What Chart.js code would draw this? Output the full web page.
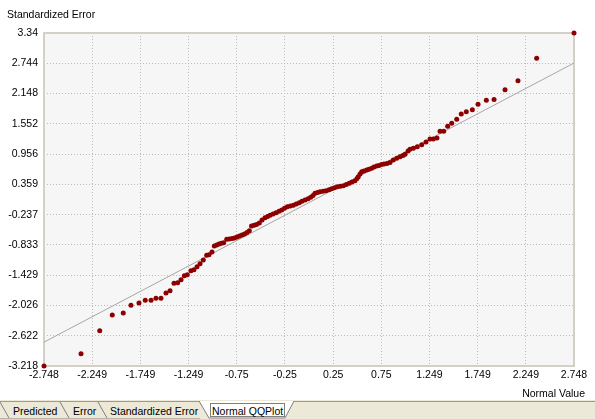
<!DOCTYPE html>
<html>
<head>
<meta charset="utf-8">
<script src="https://cdn.jsdelivr.net/npm/chart.js@4.4.0/dist/chart.umd.min.js"></script>
<style>
    html, body { margin: 0; padding: 0; background: #fff; }
    #wrap { position: relative; width: 595px; height: 419px; overflow: hidden;
            font-family: "Liberation Sans", Arial, sans-serif; font-size: 10.5px; color: #000; }
    #qq-chart { position: absolute; left: 0; top: 0; }
    .lbl { position: absolute; white-space: nowrap; line-height: 13px; }
    #y-title { left: 7px; top: 8px; }
    #x-title { right: 10px; top: 387px; }
    #tabs { position: absolute; left: 0; top: 400px; }
    #tabs text { font-family: "Liberation Sans", Arial, sans-serif; font-size: 10.5px; fill: #000; }
</style>
</head>
<body>
<div id="wrap">
    <canvas id="qq-chart" width="595" height="402"></canvas>
    <div class="lbl" id="y-title">Standardized Error</div>
    <div class="lbl" id="x-title">Normal Value</div>
    <svg id="tabs" width="595" height="19">
        <rect x="0" y="0" width="595" height="19" fill="#ECE9D8"/>
        <line x1="0" y1="1.5" x2="595" y2="1.5" stroke="#9A9A96"/>
        <line x1="0" y1="18.5" x2="200" y2="18.5" stroke="#B8B4A8"/>
        <polyline points="0,2 9,18" fill="none" stroke="#808080"/>
        <polyline points="60,2 69,18" fill="none" stroke="#808080"/>
        <polyline points="98,2 107,18" fill="none" stroke="#808080"/>
        <polygon points="199,1 209,18 285,18 294,1" fill="#FFFFFF"/>
        <polyline points="199,1 209,18 285,18 294,1" fill="none" stroke="#808080"/>
        <text x="212" y="15">Normal QQPlot</text>
        <text x="13" y="15">Predicted</text>
        <text x="73" y="15">Error</text>
        <text x="110" y="15">Standardized Error</text>
        <rect x="210.5" y="3.5" width="74" height="13" fill="none" stroke="#000" stroke-dasharray="1,1"/>
    </svg>
</div>
<script>
// --- Data ---
const xTickLabels = ['-2.748', '-2.249', '-1.749', '-1.249', '-0.75', '-0.25', '0.25', '0.75', '1.249', '1.749', '2.249', '2.748'];
const yTickLabels = ['-3.218', '-2.622', '-2.026', '-1.429', '-0.833', '-0.237', '0.359', '0.956', '1.552', '2.148', '2.744', '3.34'];

// normal quantiles (x) and sorted standardized errors (y)
const qqX = [-2.748, -2.364, -2.170, -2.040, -1.926, -1.846, -1.763, -1.698, -1.638, -1.587,
    -1.535, -1.483, -1.441, -1.400, -1.362, -1.327, -1.293, -1.262, -1.224, -1.193,
    -1.161, -1.130, -1.096, -1.061, -1.037, -1.006, -0.982, -0.957, -0.933, -0.909,
    -0.885, -0.853, -0.826, -0.798, -0.773, -0.747, -0.721, -0.695, -0.669, -0.643,
    -0.619, -0.596, -0.570, -0.544, -0.515, -0.487, -0.456, -0.430, -0.404, -0.373,
    -0.342, -0.311, -0.283, -0.254, -0.225, -0.194, -0.163, -0.132, -0.101, -0.073,
    -0.041, -0.010, 0.018, 0.042, 0.062, 0.088, 0.114, 0.145, 0.176, 0.208,
    0.235, 0.265, 0.294, 0.325, 0.356, 0.387, 0.418, 0.446, 0.477, 0.498,
    0.511, 0.529, 0.547, 0.570, 0.598, 0.622, 0.650, 0.674, 0.702, 0.726,
    0.752, 0.778, 0.809, 0.840, 0.874, 0.910, 0.944, 0.975, 0.996, 1.027,
    1.047, 1.082, 1.123, 1.169, 1.213, 1.255, 1.289, 1.327, 1.359, 1.397,
    1.438, 1.480, 1.532, 1.579, 1.631, 1.694, 1.753, 1.839, 1.919, 2.033,
    2.167, 2.361, 2.748];
const qqY = [-3.218, -2.976, -2.523, -2.213, -2.174, -2.022, -1.977, -1.924, -1.924, -1.885,
    -1.885, -1.780, -1.735, -1.589, -1.577, -1.518, -1.439, -1.420, -1.341, -1.321,
    -1.262, -1.203, -1.130, -1.038, -1.026, -0.973, -0.855, -0.835, -0.815, -0.801,
    -0.790, -0.723, -0.717, -0.707, -0.697, -0.677, -0.658, -0.638, -0.618, -0.589,
    -0.553, -0.461, -0.447, -0.431, -0.402, -0.343, -0.297, -0.274, -0.250, -0.224,
    -0.199, -0.171, -0.146, -0.112, -0.081, -0.067, -0.053, -0.027, -0.002, 0.026,
    0.051, 0.077, 0.104, 0.140, 0.183, 0.199, 0.215, 0.225, 0.234, 0.254,
    0.274, 0.294, 0.313, 0.323, 0.333, 0.357, 0.380, 0.406, 0.431, 0.475,
    0.510, 0.563, 0.609, 0.622, 0.642, 0.658, 0.676, 0.701, 0.721, 0.731,
    0.750, 0.760, 0.770, 0.790, 0.839, 0.872, 0.904, 0.928, 0.951, 1.016,
    1.050, 1.069, 1.101, 1.140, 1.193, 1.253, 1.253, 1.272, 1.404, 1.404,
    1.503, 1.562, 1.640, 1.745, 1.790, 1.830, 1.936, 2.015, 2.030, 2.223,
    2.401, 2.842, 3.340];

// reference line end points (y = x)
const refLineX = [-2.748, 2.748];
const refLineY = [-2.748, 2.748];

const tickFont = { family: '"Liberation Sans", Arial, sans-serif', size: 10.5 };

// plot area background and frame
const plotFrame = {
    id: 'plotFrame',
    beforeDraw(chart) {
        const { ctx, chartArea: a } = chart;
        ctx.save();
        ctx.fillStyle = '#F6F6F6';
        ctx.fillRect(a.left, a.top, a.width, a.height);
        ctx.restore();
    },
    beforeDatasetsDraw(chart) {
        const { ctx, chartArea: a } = chart;
        ctx.save();
        ctx.strokeStyle = '#D4D0C8';
        ctx.lineWidth = 2;
        ctx.strokeRect(a.left, a.top, a.width, a.height);
        ctx.restore();
    }
};

const ctx = document.getElementById('qq-chart').getContext('2d');
new Chart(ctx, {
    type: 'scatter',
    data: {
        datasets: [{
            label: 'Standardized Error',
            data: qqX.map((x, i) => ({ x: x, y: qqY[i] })),
            backgroundColor: '#8E0000',
            borderColor: '#880000',
            borderWidth: 0,
            pointRadius: 2.5,
            clip: false
        }, {
            label: 'Reference',
            type: 'line',
            data: refLineX.map((x, i) => ({ x: x, y: refLineY[i] })),
            borderColor: '#A6A6A6',
            borderWidth: 1,
            pointRadius: 0,
            fill: false
        }]
    },
    options: {
        responsive: false,
        animation: false,
        layout: { padding: { top: 33, right: 21, left: 0, bottom: 0 } },
        plugins: {
            legend: { display: false },
            tooltip: { enabled: false }
        },
        scales: {
            x: {
                type: 'linear',
                min: -2.748,
                max: 2.748,
                afterBuildTicks: s => { s.ticks = xTickLabels.map(t => ({ value: parseFloat(t) })); },
                afterFit: s => { s.height = 36; },
                ticks: {
                    callback: (v, i) => xTickLabels[i],
                    font: tickFont, color: '#000', padding: 3,
                    autoSkip: false, maxRotation: 0
                },
                grid: { color: '#BDBDB5', drawTicks: false },
                border: { display: false, dash: [1, 2] }
            },
            y: {
                type: 'linear',
                min: -3.218,
                max: 3.34,
                afterBuildTicks: s => { s.ticks = yTickLabels.map(t => ({ value: parseFloat(t) })); },
                afterFit: s => { s.width = 44; },
                ticks: {
                    callback: (v, i) => yTickLabels[i],
                    font: tickFont, color: '#000', padding: 6,
                    autoSkip: false
                },
                grid: { color: '#BDBDB5', drawTicks: false },
                border: { display: false, dash: [1, 2] }
            }
        }
    },
    plugins: [plotFrame]
});
</script>
</body>
</html>
